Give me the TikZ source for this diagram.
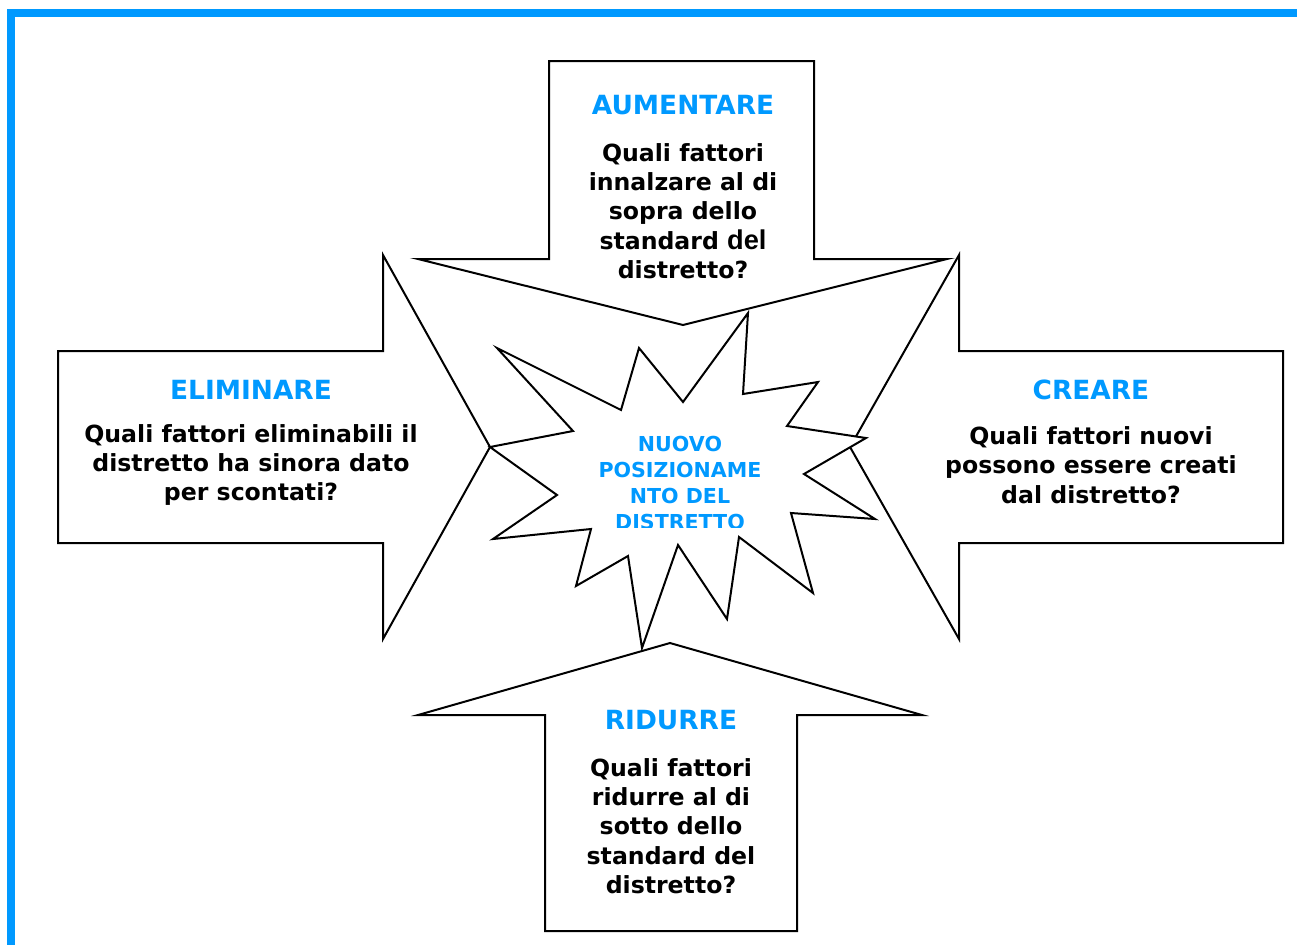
\documentclass[tikz,border=0pt]{standalone}
\usepackage{fontspec}
\setmainfont{DejaVu Sans}
\newfontfamily\delfont{Liberation Sans}
\definecolor{frameblue}{RGB}{0,153,255}
\tikzset{
  bigarrow/.style={draw=black, fill=white, line width=1pt, line join=miter},
  burst/.style={draw=black, fill=white, line width=1pt},
  heading/.style={text=frameblue, font=\bfseries\fontsize{13.2}{16}\selectfont, inner sep=0pt},
  question/.style={font=\bfseries\fontsize{11.8}{14.7}\selectfont, align=center, inner sep=0pt},
  core/.style={text=frameblue, font=\bfseries\fontsize{10.3}{13}\selectfont, align=center, inner sep=0pt}
}
\begin{document}
\begin{tikzpicture}[x=0.5pt, y=-0.5pt]
  \clip (0,0) rectangle (1297,944);
  \fill[white] (0,0) rectangle (1297,944);
  \draw[frameblue, line width=4pt] (11,960) |- (1310,12.5);
  % the four arrows
  \draw[bigarrow] (549,61) -- (814,61) -- (814,259) -- (947,259) -- (683,325) -- (418,259) -- (549,259) -- cycle;
  \draw[bigarrow] (58,351) -- (383,351) -- (383,255) -- (490,447) -- (383,639) -- (383,543) -- (58,543) -- cycle;
  \draw[bigarrow] (1283,351) -- (959,351) -- (959,255) -- (850,447) -- (959,639) -- (959,543) -- (1283,543) -- cycle;
  \draw[bigarrow] (545,931) -- (545,715) -- (418,715) -- (670,643) -- (922,715) -- (797,715) -- (797,931) -- cycle;
  % centre burst
  \draw[burst] (639,348) -- (683,402) -- (748,313) -- (743,394) -- (818,382) -- (787,426)
    -- (866,438) -- (804,474) -- (875,519) -- (791,513) -- (813,593) -- (739,537)
    -- (727,619) -- (678,545) -- (642,648) -- (628,556) -- (576,586) -- (591,529)
    -- (493,539) -- (557,495) -- (490,447) -- (573,431) -- (497,348) -- (621,410) -- cycle;
  \begin{scope}
    \clip (560,420) rectangle (800,527);
    \node[core] (centre) at (680,483) {NUOVO\\POSIZIONAME\\NTO DEL\\DISTRETTO};
  \end{scope}
  \node[heading] (aumentare) at (683,105) {AUMENTARE};
  \node[question] (aumentareq) at (683,211) {Quali fattori\\innalzare al di\\sopra dello\\standard {\delfont\bfseries\fontsize{13.6}{14.7}\selectfont del}\\distretto?};
  \node[heading] (eliminare) at (251,390) {ELIMINARE};
  \node[question] (eliminareq) at (251,465) {Quali fattori eliminabili il\\distretto ha sinora dato\\per scontati?};
  \node[heading] (creare) at (1091,390) {CREARE};
  \node[question] (creareq) at (1091,465) {Quali fattori nuovi\\possono essere creati\\dal distretto?};
  \node[heading] (ridurre) at (671,720) {RIDURRE};
  \node[question] (ridurreq) at (671,826) {Quali fattori\\ridurre al di\\sotto dello\\standard del\\distretto?};
\end{tikzpicture}
\end{document}
